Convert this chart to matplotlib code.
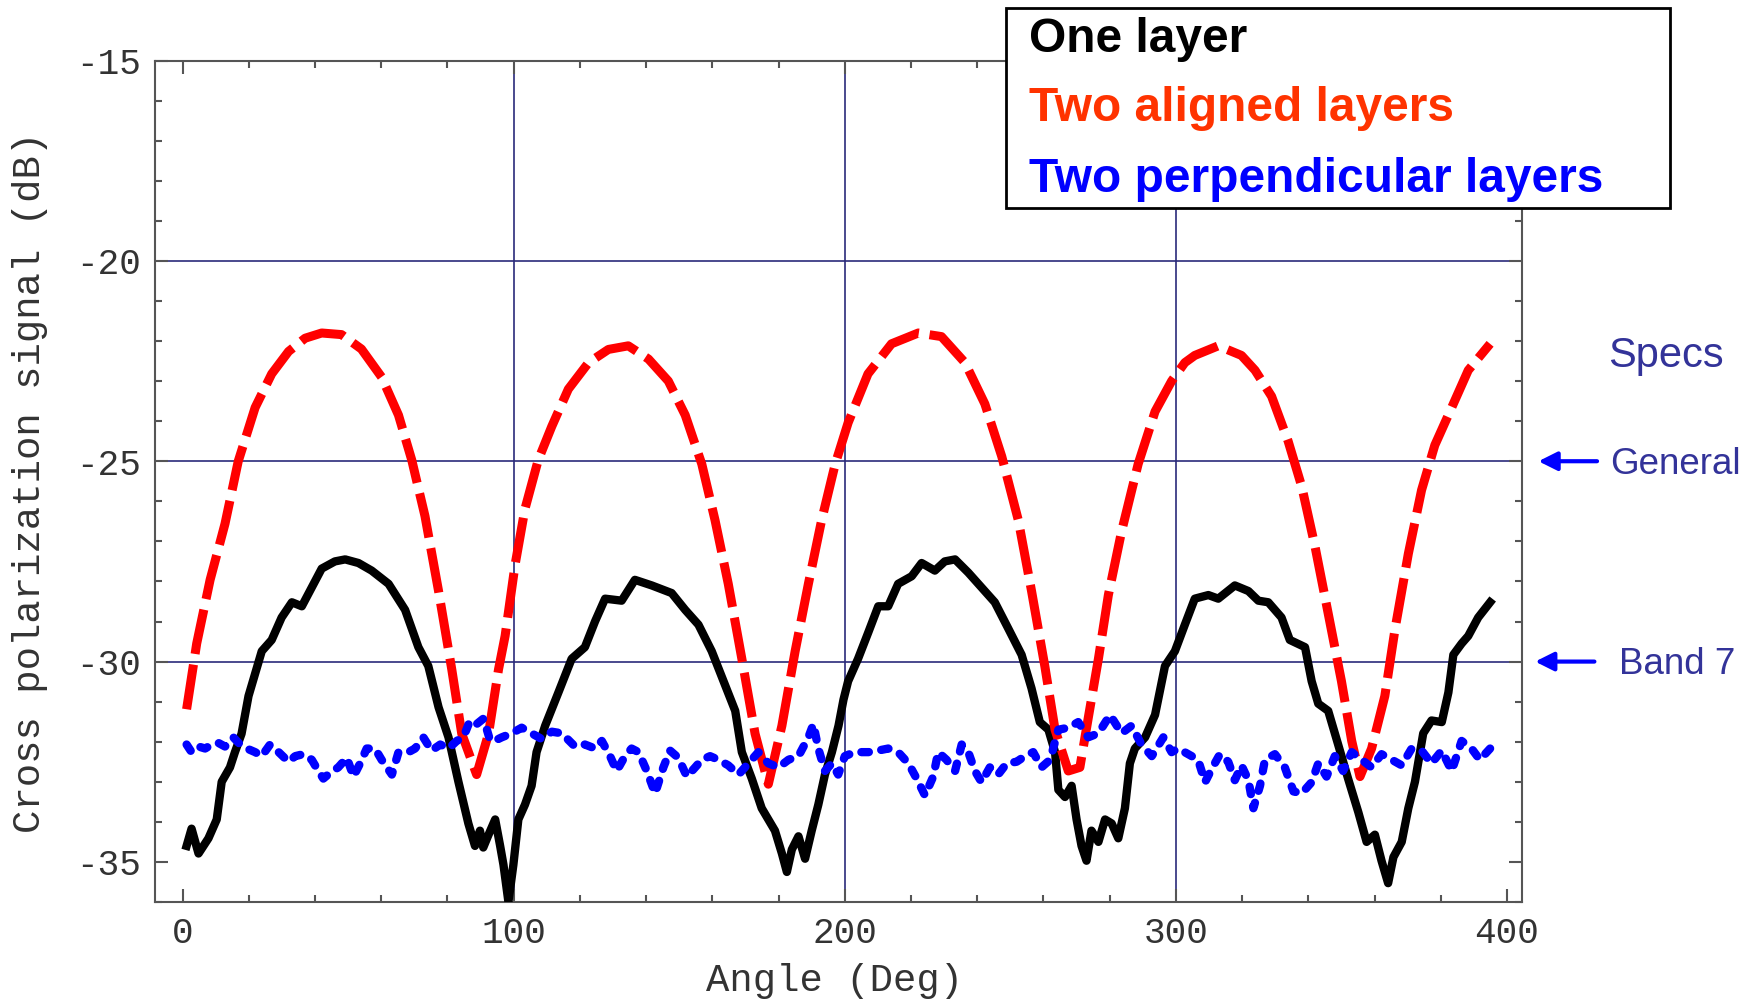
import numpy as np
import matplotlib
matplotlib.use("Agg")
import matplotlib.pyplot as plt
from matplotlib.patches import Rectangle

plt.rcParams['axes.unicode_minus'] = False

# one layer (black, solid)
one_x = [1.2, 2.7, 4.8, 7.8, 10.3, 11.8, 14.3, 15.8, 17.8, 19.9, 21.9, 23.9, 26.9, 29.9, 33, 36, 39, 42,
         46, 49.1, 53.1, 57.1, 62.2, 67.2, 71.2, 74.2, 77.3, 80.3, 83.3, 86.3, 88.3, 89.8, 90.8, 92.4, 94.4,
         95.9, 96.9, 98.4, 99.9, 101.4, 103.4, 105.4, 106.9, 109.5, 113.5, 117.5, 121.5, 124.6, 127.6,
         132.6, 136.6, 141.7, 147.7, 151.8, 155.8, 159.8, 163.8, 166.9, 168.9, 171.9, 174.9, 178.9, 181,
         182.5, 184, 186, 188, 190, 192, 194, 196.1, 198.1, 199.6, 201, 204, 207.1, 210.1, 213.1, 216.1,
         220.2, 223.2, 227.2, 230.2, 233.3, 237.3, 241.3, 245.3, 249.4, 253.4, 256.4, 258.9, 261.5, 263.5,
         264.5, 266.5, 268.5, 270, 271.5, 273, 274.5, 276.6, 278.6, 280.6, 282.6, 284.6, 286.1, 287.6,
         290.7, 293.7, 296.7, 299.7, 302.7, 305.7, 309.8, 312.8, 317.8, 321.9, 324.9, 327.9, 331.9, 334.4,
         339, 341, 343, 346, 349, 352, 355.1, 357.6, 360.1, 362.1, 364.1, 365.7, 368.2, 370.2, 372.2, 374.7,
         377.2, 380.3, 382.3, 383.8, 386.3, 388.3, 391.3, 394.9]
one_y = [-34.6, -34.17, -34.79, -34.41, -33.94, -33.0, -32.64, -32.26, -31.8, -30.86, -30.3, -29.74, -29.46,
         -28.9, -28.52, -28.62, -28.15, -27.68, -27.5, -27.45, -27.54, -27.73, -28.06, -28.71, -29.64,
         -30.11, -31.14, -31.89, -33.0, -34.04, -34.6, -34.22, -34.64, -34.32, -33.94, -34.6, -35.07, -36.0,
         -35.07, -33.94, -33.57, -33.1, -32.26, -31.6, -30.77, -29.93, -29.64, -28.99, -28.43, -28.48,
         -27.96, -28.1, -28.29, -28.71, -29.08, -29.74, -30.58, -31.23, -32.26, -32.92, -33.66, -34.22,
         -34.79, -35.25, -34.69, -34.36, -34.92, -34.22, -33.57, -32.82, -32.26, -31.6, -30.95, -30.49,
         -29.93, -29.27, -28.62, -28.62, -28.06, -27.87, -27.54, -27.73, -27.5, -27.45, -27.78, -28.15,
         -28.52, -29.18, -29.83, -30.67, -31.51, -31.7, -32.26, -33.2, -33.38, -33.1, -33.94, -34.6, -34.97,
         -34.22, -34.5, -33.94, -34.04, -34.41, -33.66, -32.54, -32.17, -31.89, -31.33, -30.11, -29.74,
         -29.08, -28.43, -28.34, -28.43, -28.1, -28.24, -28.48, -28.52, -28.9, -29.46, -29.64, -30.49,
         -31.05, -31.23, -32.07, -32.92, -33.76, -34.5, -34.32, -34.97, -35.53, -34.88, -34.5, -33.66,
         -33.0, -31.79, -31.47, -31.51, -30.77, -29.83, -29.55, -29.36, -28.9, -28.52]

# two aligned layers (red, dashed)
aligned_x = [1.2, 4.25, 8.3, 12.8, 16.8, 21.9, 26.9, 32, 37, 42, 48, 54, 60.1, 65.2, 69.2, 73.2, 77.3, 81.3,
             84.3, 88.8, 92.4, 95.4, 97.4, 100.4, 103.4, 107.4, 111.5, 116.5, 122.6, 128.6, 134.6, 140.7,
             146.7, 151.8, 156.8, 160.8, 164.8, 168.9, 172.9, 176.9, 181, 185, 189, 193, 197.1, 201, 207,
             214.1, 222.2, 229.2, 236.3, 242.3, 247.4, 252.4, 256.4, 260.4, 263.5, 267.5, 271, 273.5, 276.6,
             279.6, 283.6, 288.6, 293.7, 298.7, 302.7, 305.7, 312.8, 319.8, 323.9, 328.9, 333.9, 338, 342,
             346, 350, 353.1, 355.6, 359.1, 363.1, 366.2, 370.2, 374.2, 378.2, 383.3, 388.3, 394.9]
aligned_y = [-31.19, -29.55, -27.96, -26.56, -25.0, -23.66, -22.82, -22.26, -21.93, -21.8, -21.84, -22.2,
             -22.9, -23.85, -24.97, -26.37, -28.24, -30.2, -31.8, -32.82, -31.8, -30.2, -29.36, -27.59,
             -26.19, -24.97, -24.13, -23.2, -22.54, -22.21, -22.12, -22.45, -23.0, -23.85, -25.07, -26.47,
             -28.06, -29.93, -31.8, -33.06, -31.6, -29.74, -28.06, -26.47, -25.07, -24.04, -22.82, -22.07,
             -21.8, -21.89, -22.54, -23.57, -24.88, -26.47, -28.24, -30.11, -31.7, -32.73, -32.64, -31.42,
             -29.93, -28.34, -26.75, -25.07, -23.76, -23.0, -22.54, -22.36, -22.12, -22.36, -22.73, -23.38,
             -24.5, -25.63, -27.12, -28.8, -30.49, -31.98, -32.87, -32.17, -30.86, -29.18, -27.31, -25.72,
             -24.6, -23.66, -22.73, -22.07]

# two perpendicular layers (blue, short dashes)
perp_x = [1.2, 2.7, 4.8, 6.8, 8.8, 10.8, 12.8, 15.3, 17.4, 19.4, 21.9, 23.9, 26.4, 29.0, 32, 34, 36.5, 39, 41,
          42.5, 44.5, 47, 49.6, 51.6, 53.6, 55.6, 58.1, 60.1, 63.2, 65.2, 68.2, 70.2, 72.7, 75.2, 77.8, 80.3,
          82.8, 84.8, 86.8, 88.8, 90.9, 92.9, 95.4, 96.4, 99.4, 102.4, 105.4, 108.4, 111.5, 114.5, 118.5,
          121.5, 124.6, 126.6, 129.1, 131.1, 133.6, 135.6, 137.7, 140.2, 142.7, 145.2, 147.2, 149.7, 152.3,
          154.8, 156.8, 159.3, 161.8, 164.8, 167.9, 170.9, 173.9, 176.9, 180, 183, 186, 189, 190.5, 192, 194,
          196.1, 198, 200, 203, 207.1, 210.1, 213.1, 216.1, 219.2, 221.7, 224.2, 226.7, 228.2, 230.7, 233.3,
          235.3, 237.3, 239.3, 241.3, 243.8, 246.3, 248.9, 251.9, 254.4, 256.9, 259.4, 262, 264.5, 267.5,
          270.5, 273.5, 276.6, 280.1, 283.6, 286.6, 289.6, 292.7, 296.2, 298.7, 300.7, 303.7, 306.7, 308.8,
          310.8, 313.3, 315.8, 317.8, 319.8, 321.9, 323.4, 325.4, 326.9, 329.9, 332.9, 335.5, 338, 341, 343,
          345.5, 348, 350.5, 353.1, 356.1, 359.1, 362.1, 365.2, 368.2, 371.2, 374.2, 377.2, 380.3, 383.3,
          386.3, 389.3, 391.8, 394.9]
perp_y = [-32.07, -32.26, -32.12, -32.17, -32.07, -32.03, -32.12, -31.89, -32.07, -32.17, -32.26, -32.36,
          -32.07, -32.26, -32.5, -32.36, -32.31, -32.45, -32.73, -32.92, -32.78, -32.64, -32.4, -32.87,
          -32.54, -32.17, -32.17, -32.45, -32.82, -32.26, -32.26, -32.17, -31.89, -32.22, -32.07, -32.17,
          -31.98, -31.89, -31.47, -31.56, -31.42, -31.98, -31.93, -31.89, -31.79, -31.65, -31.79, -31.93,
          -31.75, -31.79, -32.12, -32.07, -32.17, -31.98, -32.36, -32.73, -32.36, -32.17, -32.26, -32.73,
          -33.29, -32.64, -32.22, -32.4, -32.87, -32.64, -32.45, -32.36, -32.45, -32.59, -32.82, -32.54,
          -32.26, -32.54, -32.64, -32.45, -32.36, -31.89, -31.56, -32.17, -32.73, -32.54, -32.82, -32.36,
          -32.26, -32.26, -32.22, -32.17, -32.26, -32.54, -32.92, -33.34, -32.87, -32.26, -32.45, -32.73,
          -32.07, -32.26, -32.73, -33.01, -32.64, -32.82, -32.54, -32.5, -32.36, -32.26, -32.64, -32.45,
          -31.7, -31.65, -31.51, -31.89, -31.79, -31.33, -31.79, -31.6, -32.07, -32.36, -31.89, -32.26,
          -32.17, -32.31, -32.45, -33.01, -32.68, -32.31, -32.5, -32.96, -32.59, -32.96, -33.66, -33.1,
          -32.45, -32.31, -32.64, -33.24, -33.29, -33.01, -32.54, -32.87, -32.36, -32.73, -32.26, -32.45,
          -32.64, -32.31, -32.45, -32.59, -32.17, -32.22, -32.54, -32.22, -32.73, -31.98, -32.17, -32.45,
          -32.17]

legend_labels = ["One layer", "Two aligned layers", "Two perpendicular layers"]
legend_colors = ["black", "#ff3300", "#0000ff"]
spec_labels = ["General", "Band 7"]
spec_levels = [-25, -30]

fig = plt.figure(figsize=(17.57, 10.02), dpi=100)
ax = fig.add_axes([0.088, 0.0998, 0.778, 0.8398])

for v in [100, 200, 300]:
    ax.axvline(v, color='#2a2a7a', lw=1.2, zorder=1)
for h in [-20, -25, -30]:
    ax.axhline(h, color='#2a2a7a', lw=1.2, zorder=1)

ax.plot(one_x, one_y, color='black', lw=6, solid_joinstyle='round', zorder=3)
ax.plot(aligned_x, aligned_y, color='#ff0000', lw=6.5, dashes=(5, 1.2), zorder=4)
ax.plot(perp_x, perp_y, color='#0000ff', lw=6, dashes=(0.9, 1.5), dash_capstyle='round', zorder=5)

ax.set_xlim(-8.46, 404.4)
ax.set_ylim(-36, -15)
ax.set_xticks([0, 100, 200, 300, 400])
ax.set_xticks(np.arange(0, 401, 20), minor=True)
ax.set_yticks([-35, -30, -25, -20, -15])
ax.set_yticks(np.arange(-36, -14, 1), minor=True)
ax.tick_params(which='both', direction='in', top=True, right=True, color='#555555', width=1.5)
ax.tick_params(which='major', length=9.5, labelsize=26, pad=10, labelcolor='#333333')
ax.tick_params(which='minor', length=5)
for lab in ax.get_xticklabels() + ax.get_yticklabels():
    lab.set_family('Liberation Mono')
for s in ax.spines.values():
    s.set_color('#555555')
    s.set_linewidth(1.5)

fig.text(0.4752, 0.021, "Angle (Deg)", family='Liberation Mono', fontsize=28,
         color='#333333', ha='center', va='center')
fig.text(0.0171, 0.519, "Cross polarization signal (dB)", family='Liberation Mono', fontsize=28,
         color='#333333', ha='center', va='center', rotation=90)

# legend box
fig.patches.append(Rectangle((0.5726, 0.7924), 0.378, 0.1996, transform=fig.transFigure,
                             facecolor='white', edgecolor='black', lw=2, zorder=5))
for lab, col, yb in zip(legend_labels, legend_colors, [0.9486, 0.8792, 0.8088]):
    fig.text(0.5857, yb, lab, color=col, family='Liberation Sans', fontweight='bold',
             fontsize=34.5, va='baseline', ha='left', zorder=6)

# specs annotations
ax.text(430.5, -22.65, "Specs", color='#333399', family='Liberation Sans', fontsize=30,
        va='baseline', ha='left', clip_on=False)
for lab, lev, tx, hx, ax0 in zip(spec_labels, spec_levels, [431.1, 433.9], [409.5, 408.5], [427.2, 426.4]):
    ax.text(tx, lev - 0.32, lab, color='#333399', family='Liberation Sans', fontsize=26.5,
            va='baseline', ha='left', clip_on=False)
    ax.annotate('', xy=(hx, lev), xytext=(ax0, lev), annotation_clip=False,
                arrowprops=dict(arrowstyle='-|>', color='#0000ff', lw=3, mutation_scale=28,
                                shrinkA=0, shrinkB=0))

fig.savefig('out.png', dpi=100)
